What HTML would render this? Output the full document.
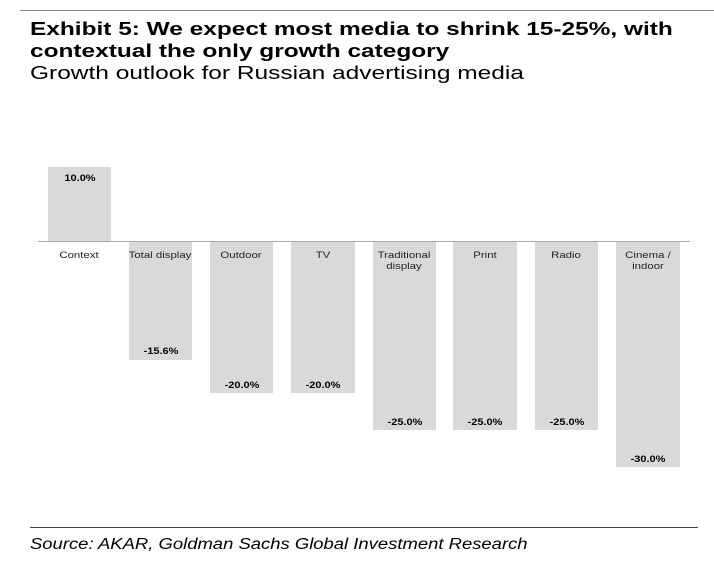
<html><head><style>
body{margin:0;width:714px;height:561px;background:#fff;font-family:"Liberation Sans",sans-serif;position:relative;overflow:hidden}
.t{position:absolute;left:30px;font-size:18.5px;color:#000;transform-origin:0 0;white-space:nowrap}
.b{position:absolute;background:#d9d9d9}
.v{position:absolute;font-size:9px;font-weight:bold;text-align:center;width:64px;transform:scaleX(1.22)}
.c{position:absolute;font-size:9.5px;text-align:center;width:80px;top:250px;line-height:11px;color:#222;transform:scaleX(1.2)}
</style></head><body>
<div style="position:absolute;left:20px;top:10px;width:694px;height:1px;background:#888"></div>
<div class="t" style="top:18px;font-weight:bold;line-height:22px;transform:scaleX(1.32)">Exhibit 5: We expect most media to shrink 15-25%, with<br>contextual the only growth category</div>
<div class="t" style="top:63px;font-size:18px;transform:scaleX(1.36)">Growth outlook for Russian advertising media</div>
<div class="b" style="left:48px;top:167px;width:63px;height:75px"></div>
<div class="b" style="left:129px;top:242px;width:63px;height:118px"></div>
<div class="b" style="left:210px;top:242px;width:63px;height:151px"></div>
<div class="b" style="left:291px;top:242px;width:64px;height:151px"></div>
<div class="b" style="left:373px;top:242px;width:63px;height:188px"></div>
<div class="b" style="left:453px;top:242px;width:64px;height:188px"></div>
<div class="b" style="left:535px;top:242px;width:63px;height:188px"></div>
<div class="b" style="left:616px;top:242px;width:64px;height:225px"></div>
<div style="position:absolute;left:38px;top:241px;width:652px;height:1px;background:#aaa"></div>
<div class="v" style="left:48px;top:173px">10.0%</div>
<div class="v" style="left:129px;top:346px">-15.6%</div>
<div class="v" style="left:210px;top:380px">-20.0%</div>
<div class="v" style="left:291px;top:380px">-20.0%</div>
<div class="v" style="left:373px;top:417px">-25.0%</div>
<div class="v" style="left:453px;top:417px">-25.0%</div>
<div class="v" style="left:535px;top:417px">-25.0%</div>
<div class="v" style="left:616px;top:454px">-30.0%</div>
<div class="c" style="left:39px">Context</div>
<div class="c" style="left:120px">Total display</div>
<div class="c" style="left:201px">Outdoor</div>
<div class="c" style="left:283px">TV</div>
<div class="c" style="left:364px">Traditional<br>display</div>
<div class="c" style="left:445px">Print</div>
<div class="c" style="left:526px">Radio</div>
<div class="c" style="left:608px">Cinema /<br>indoor</div>
<div style="position:absolute;left:30px;top:527px;width:668px;height:1px;background:#444"></div>
<div class="t" style="top:536px;font-size:15.5px;font-style:italic;transform:scaleX(1.19)">Source: AKAR, Goldman Sachs Global Investment Research</div>
</body></html>
